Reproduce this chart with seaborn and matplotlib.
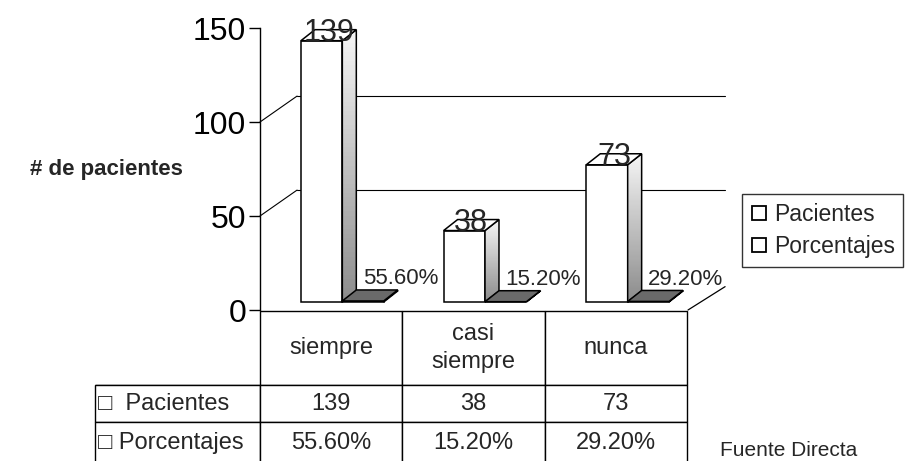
import numpy as np
import pandas as pd
import matplotlib
matplotlib.use("Agg")
import matplotlib.pyplot as plt
import seaborn as sns
from matplotlib.patches import Polygon
from matplotlib.lines import Line2D
from matplotlib.table import Table
from matplotlib.transforms import ScaledTranslation

# DATOS

categorias = ["siempre", "casi\nsiempre", "nunca"]
pacientes = [139, 38, 73]
porcentajes = [0.556, 0.152, 0.292]
series = ["Pacientes", "Porcentajes"]
filas_tabla = ["\u25a1  Pacientes", "\u25a1 Porcentajes"]
ticks_y = [0, 50, 100, 150]

df = pd.DataFrame({
    "categoria": categorias * 2,
    "serie": [series[0]] * 3 + [series[1]] * 3,
    "valor": pacientes + porcentajes,
})

sns.set_theme(style="white")
plt.rcParams["font.family"] = ["Liberation Sans", "DejaVu Sans"]

fig = plt.figure(figsize=(9.06, 4.61), dpi=100)
ax = fig.add_axes([260 / 906, 1 - 310 / 461, 428 / 906, 282 / 461])

sns.barplot(data=df, x="categoria", y="valor", hue="serie", palette=["white", "#707070"],
            edgecolor="black", linewidth=1.1, width=0.58, legend=False, ax=ax, zorder=3)

ax.set_xlim(-0.5, 2.5)
ax.set_ylim(0, 150)

# desplazamiento del plano de las barras (efecto 3D)
off = ax.transData + ScaledTranslation(0.11, 0.08, fig.dpi_scale_trans)
ddx, ddy = 0.098, 5.85      # profundidad de cada barra
bdx, bdy = 0.26, 13.8       # profundidad de la pared del fondo

# pared del fondo y cuadricula
for v in [50, 100]:
    ax.plot([-0.5, -0.5 + bdx], [v, v + bdy], color="black", lw=0.8, zorder=1, clip_on=False)
    ax.plot([-0.5 + bdx, 2.5 + bdx], [v + bdy, v + bdy], color="black", lw=0.8, zorder=1, clip_on=False)
ax.plot([2.5, 2.5 + bdx], [0, bdy * 0.9], color="black", lw=0.9, zorder=1, clip_on=False)

grad = np.linspace(0.55, 0.96, 60).reshape(-1, 1)

for k, cont in enumerate(ax.containers):
    for i, bar in enumerate(cont):
        bar.set_transform(off)
        x0, w, h = bar.get_x(), bar.get_width(), bar.get_height()
        side = Polygon([(x0 + w, 0), (x0 + w + ddx, ddy), (x0 + w + ddx, h + ddy), (x0 + w, h)],
                       closed=True, transform=off, facecolor="none", edgecolor="black", lw=1.1, zorder=5)
        top = Polygon([(x0, h), (x0 + w, h), (x0 + w + ddx, h + ddy), (x0 + ddx, h + ddy)],
                      closed=True, transform=off, edgecolor="black", lw=1.1, zorder=5,
                      facecolor="white" if k == 0 else "#6a6a6a")
        ax.add_patch(side)
        ax.add_patch(top)
        if k == 0:
            im = ax.imshow(grad, extent=[x0 + w, x0 + w + ddx, 0, h + ddy], origin="lower",
                           aspect="auto", cmap="gray", vmin=0, vmax=1, transform=off, zorder=4)
            im.set_clip_path(side)
            ax.text(x0 + w / 2 + ddx / 2, h, f"{pacientes[i]}", transform=off, ha="center",
                    va="baseline", fontsize=22, zorder=8)
        else:
            ax.annotate(f"{porcentajes[i] * 100:.2f}%", (x0 + w / 2, h), xycoords=off,
                        xytext=(0, 12), textcoords="offset points", ha="left", va="baseline",
                        fontsize=16, zorder=8)

ax.set_xlim(-0.5, 2.5)
ax.set_ylim(0, 150)
ax.set_yticks(ticks_y)
ax.set_xticks([])
ax.set_xlabel("")
ax.set_ylabel("")
ax.tick_params(axis="y", labelsize=23, length=8, width=1, pad=2, colors="black", left=True)
for s in ["top", "right", "bottom"]:
    ax.spines[s].set_visible(False)
ax.spines["left"].set_color("black")
ax.spines["left"].set_linewidth(1)

# TABLA DE DATOS
tabla = Table(ax, bbox=[-165 / 428, -153 / 282, 592 / 428, 152 / 282])
anchos = [165, 142.7, 142.7, 142.7]
altos = [74, 37, 41]
contenido = [
    [""] + categorias,
    [filas_tabla[0]] + [f"{v}" for v in pacientes],
    [filas_tabla[1]] + [f"{p * 100:.2f}%" for p in porcentajes],
]
for r in range(3):
    for c in range(4):
        celda = tabla.add_cell(r, c, width=anchos[c], height=altos[r], text=contenido[r][c],
                               loc="left" if c == 0 else "center", facecolor="white")
        celda.set_edgecolor("black")
        celda.set_linewidth(1)
        celda.get_text().set_fontsize(17)
        celda.get_text().set_linespacing(1.35)
        if c == 0:
            celda.PAD = 0.02
        if r == 0 and c == 0:
            celda.visible_edges = "B"
tabla.auto_set_font_size(False)
ax.add_table(tabla)

# LEYENDA
manejadores = [Line2D([], [], marker="s", ls="", mfc="white", mec="black", ms=10, mew=1.3)
               for _ in series]
leg = fig.legend(manejadores, series, loc="upper left", bbox_to_anchor=(742 / 906, 1 - 194 / 461),
                 frameon=True, fancybox=False, edgecolor="black", fontsize=16.5, handlelength=0.7,
                 handletextpad=0.3, borderpad=0.38, labelspacing=0.42, borderaxespad=0)
leg.get_frame().set_linewidth(1)

fig.text(30 / 906, 1 - 170 / 461, "# de pacientes", fontweight="bold", fontsize=16, va="center")
fig.text(720 / 906, 0.002, "Fuente Directa", fontsize=15, va="bottom")

fig.savefig("out.png", dpi=100, facecolor="white")
